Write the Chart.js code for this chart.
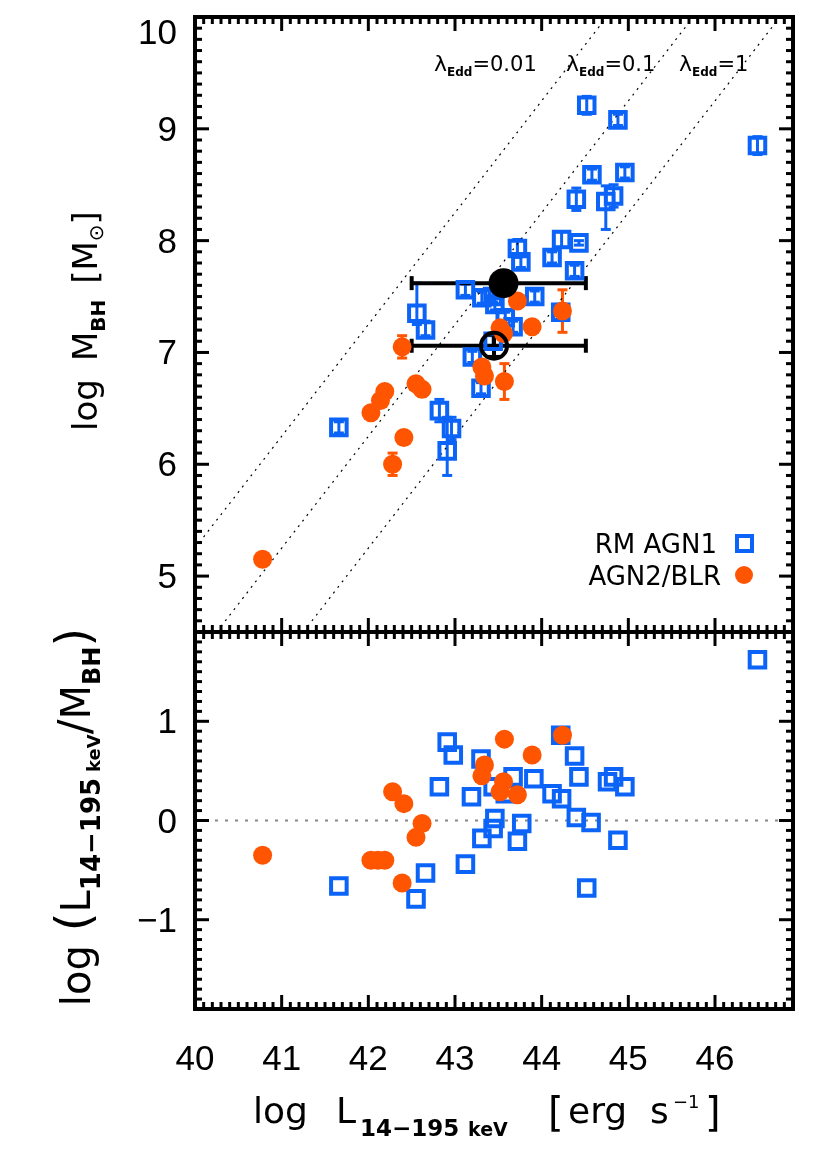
<!DOCTYPE html>
<html>
<head>
<meta charset="utf-8">
<script src="https://cdn.jsdelivr.net/npm/chart.js@4.4.1/dist/chart.umd.min.js"></script>
<style>
  body { margin: 0; background: #fff; }
  #wrap { position: relative; width: 830px; height: 1173px; }
  canvas { position: absolute; left: 0; top: 0; }
</style>
</head>
<body>
<div id="wrap">
  <canvas id="topChart" width="830" height="1173"></canvas>
  <canvas id="botChart" width="830" height="1173"></canvas>
</div>
<script>
// ----------------- Data -----------------
// RM AGN1 (blue squares): log L, log M_BH, lower / upper error
const rmL     = [46.49, 44.52, 44.88, 44.58, 44.96, 44.40, 44.74, 44.83, 43.72, 43.76, 44.23, 44.43, 44.12, 44.38, 42.56, 43.12,
                 43.31, 43.92, 42.66, 43.44, 43.46, 43.67, 44.22, 43.20, 43.30, 42.82, 42.96, 42.91, 41.66, 43.44, 43.58];
const rmM     = [8.85, 9.21, 9.08, 8.59, 8.61, 8.37, 8.35, 8.40, 7.93, 7.81, 8.01, 7.98, 7.85, 7.73, 7.35, 7.56,
                 7.49, 7.50, 7.20, 7.50, 7.43, 7.23, 7.36, 6.96, 6.68, 6.48, 6.32, 6.12, 6.33, 7.10, 7.31];
const rmErrLo = [0.08, 0.08, 0.05, 0.05, 0.05, 0.10, 0.25, 0.10, 0.08, 0.05, 0.07, 0.02, 0.05, 0.05, 0.10, 0.05,
                 0.05, 0.05, 0.05, 0.05, 0.05, 0.05, 0.07, 0.05, 0.05, 0.10, 0.10, 0.22, 0.05, 0.05, 0.05];
const rmErrHi = [0.08, 0.08, 0.05, 0.05, 0.05, 0.10, 0.14, 0.10, 0.08, 0.05, 0.07, 0.02, 0.05, 0.05, 0.27, 0.05,
                 0.05, 0.05, 0.08, 0.05, 0.05, 0.05, 0.07, 0.05, 0.05, 0.10, 0.10, 0.30, 0.05, 0.05, 0.05];
// RM AGN1 lower panel: log L, log(L/M_BH)
const rmRatioL = [46.49, 44.52, 44.88, 44.57, 44.96, 44.40, 44.76, 44.83, 43.72, 43.77, 44.23, 44.43, 44.12, 44.38, 42.55, 43.12,
                  43.31, 43.91, 42.66, 43.44, 43.46, 43.67, 44.22, 43.19, 43.30, 42.82, 42.98, 42.91, 41.66, 43.44, 43.58];
const rmRatio  = [1.62, -0.68, -0.20, -0.02, 0.34, 0.03, 0.39, 0.44, -0.21, -0.03, 0.22, 0.44, 0.27, 0.65, -0.79, -0.44,
                  -0.18, 0.42, -0.53, -0.08, 0.02, 0.44, 0.86, 0.24, 0.62, 0.34, 0.66, 0.79, -0.66, 0.34, 0.27];

// AGN2/BLR (orange circles)
const blrL   = [40.78, 42.03, 42.14, 42.19, 42.28, 42.41, 42.39, 42.55, 42.62, 43.31, 43.34, 43.52, 43.56, 43.57, 43.72, 43.89, 44.24];
const blrM   = [5.15, 6.46, 6.57, 6.65, 6.00, 6.24, 7.05, 6.72, 6.67, 6.87, 6.79, 7.22, 7.17, 6.74, 7.46, 7.23, 7.37];
const blrErr = [0.05, 0.05, 0.05, 0.05, 0.10, 0.05, 0.10, 0.05, 0.06, 0.05, 0.05, 0.05, 0.05, 0.16, 0.05, 0.05, 0.19];
const blrRatioL = [40.78, 42.03, 42.11, 42.19, 42.28, 42.41, 42.39, 42.55, 42.62, 43.31, 43.34, 43.52, 43.56, 43.57, 43.72, 43.89, 44.24];
const blrRatio  = [-0.35, -0.40, -0.40, -0.40, 0.29, 0.17, -0.63, -0.17, -0.03, 0.45, 0.56, 0.29, 0.39, 0.82, 0.26, 0.66, 0.86];

// stacked averages (black): filled, open
const avgL    = [43.56, 43.45];
const avgM    = [7.62, 7.06];
const avgLlo  = [42.50, 42.50];
const avgLhi  = [44.51, 44.51];
const avgMerr = [0.0, 0.10];

// Eddington ratio lines (end points)
const eddNames = ['0.01', '0.1', '1'];
const eddX = [[40.00, 44.75], [40.25, 45.75], [41.25, 46.75]];
const eddY = [[5.25, 10.0], [4.5, 10.0], [4.5, 10.0]];

// axes
const xRange = [40, 46.9];
const yTopRange = [4.5, 10];
const yBotRange = [-1.9, 1.9];
const xTicks = [40, 41, 42, 43, 44, 45, 46];
const yTopTicks = [5, 6, 7, 8, 9, 10];
const yBotTicks = [-1, 0, 1];

const BLUE = '#0b64f7';
const ORANGE = '#ff5500';
const FAM = '"DejaVu Sans", sans-serif';
const TICKFAM = '"Liberation Sans", Arial, sans-serif';

// ----------------- helpers -----------------
function font(size, bold) { return (bold ? 'bold ' : '') + size + 'px ' + FAM; }

// parts: [text, size, bold, dy, gapAfter]
function richText(ctx, parts, x, y, rot) {
  ctx.save();
  ctx.translate(x, y);
  ctx.rotate(rot || 0);
  ctx.fillStyle = '#000';
  ctx.textAlign = 'left';
  ctx.textBaseline = 'alphabetic';
  let w = 0;
  const ws = parts.map(p => { ctx.font = font(p[1], p[2]); const m = ctx.measureText(p[0]).width; w += m + (p[4] || 0); return m; });
  let cx = -w / 2;
  parts.forEach((p, i) => { ctx.font = font(p[1], p[2]); ctx.fillText(p[0], cx, p[3] || 0); cx += ws[i] + (p[4] || 0); });
  ctx.restore();
}

function seg(ctx, x1, y1, x2, y2) { ctx.beginPath(); ctx.moveTo(x1, y1); ctx.lineTo(x2, y2); ctx.stroke(); }

// ----------------- plugins -----------------
const errorBars = {
  id: 'errorBars',
  beforeDatasetsDraw(chart) {
    const { ctx, scales: { x, y } } = chart;
    ctx.save();
    chart.data.datasets.forEach(ds => {
      if (!ds.err) return;
      ctx.strokeStyle = ds.err.color;
      ctx.lineWidth = ds.err.width;
      ds.data.forEach(p => {
        const px = x.getPixelForValue(p.x), py = y.getPixelForValue(p.y);
        if (p.yLo !== undefined && p.yHi > p.yLo) {
          const a = y.getPixelForValue(p.yLo), b = y.getPixelForValue(p.yHi);
          seg(ctx, px, a, px, b);
          seg(ctx, px - ds.err.cap, a, px + ds.err.cap, a);
          seg(ctx, px - ds.err.cap, b, px + ds.err.cap, b);
        }
        if (p.xLo !== undefined) {
          const a = x.getPixelForValue(p.xLo), b = x.getPixelForValue(p.xHi);
          seg(ctx, a, py, b, py);
          seg(ctx, a, py - ds.err.cap, a, py + ds.err.cap);
          seg(ctx, b, py - ds.err.cap, b, py + ds.err.cap);
        }
      });
    });
    ctx.restore();
  }
};

function framePlugin(yTicks, drawExtra) {
  return {
    id: 'frame',
    afterDraw(chart) {
      const { ctx, chartArea: a, scales: { x, y } } = chart;
      ctx.save();
      ctx.strokeStyle = '#000';
      ctx.lineWidth = 3;
      for (let i = Math.ceil(x.min * 10); i <= Math.floor(x.max * 10 + 1e-6); i++) {
        const px = x.getPixelForValue(i / 10), len = i % 10 === 0 ? 14 : 7;
        seg(ctx, px, a.bottom, px, a.bottom - len);
        seg(ctx, px, a.top, px, a.top + len);
      }
      for (let i = Math.ceil(y.min * 10 - 1e-6); i <= Math.floor(y.max * 10 + 1e-6); i++) {
        const py = y.getPixelForValue(i / 10), len = i % 10 === 0 ? 14 : 7;
        seg(ctx, a.left, py, a.left + len, py);
        seg(ctx, a.right, py, a.right - len, py);
      }
      ctx.lineWidth = 4;
      ctx.strokeRect(a.left, a.top, a.right - a.left, a.bottom - a.top);
      // y tick labels
      ctx.fillStyle = '#000';
      ctx.font = '35px ' + TICKFAM;
      ctx.textAlign = 'right';
      ctx.textBaseline = 'alphabetic';
      yTicks.forEach(v => {
        const py = y.getPixelForValue(v);
        const base = Math.max(py + 12, a.top + 27);
        ctx.fillText(v < 0 ? '\u2212' + Math.abs(v) : String(v), 177, base);
      });
      ctx.restore();
      drawExtra(chart);
    }
  };
}

function baseOptions(yRange, padding) {
  return {
    responsive: false,
    animation: false,
    layout: { padding },
    plugins: { legend: { display: false }, tooltip: { enabled: false } },
    scales: {
      x: { type: 'linear', min: xRange[0], max: xRange[1], display: false },
      y: { type: 'linear', min: yRange[0], max: yRange[1], display: false }
    }
  };
}

// ----------------- top panel -----------------
const eddSets = eddNames.map((n, i) => ({
  label: 'lambda ' + n,
  data: [{ x: eddX[i][0], y: eddY[i][0] }, { x: eddX[i][1], y: eddY[i][1] }],
  showLine: true, pointRadius: 0, borderColor: '#000', borderWidth: 1.2, borderDash: [2, 5], order: 9
}));

new Chart(document.getElementById('topChart'), {
  type: 'scatter',
  data: {
    datasets: [
      ...eddSets,
      {
        label: 'RM AGN1',
        data: rmL.map((v, i) => ({ x: v, y: rmM[i], yLo: rmM[i] - rmErrLo[i], yHi: rmM[i] + rmErrHi[i] })),
        pointStyle: 'rect', pointRadius: 11, borderWidth: 4, borderColor: BLUE, backgroundColor: 'rgba(0,0,0,0)',
        err: { color: BLUE, width: 3, cap: 5 }, order: 3
      },
      {
        label: 'AGN2/BLR',
        data: blrL.map((v, i) => ({ x: v, y: blrM[i], yLo: blrM[i] - blrErr[i], yHi: blrM[i] + blrErr[i] })),
        pointStyle: 'circle', pointRadius: 9.5, borderWidth: 0, backgroundColor: ORANGE,
        err: { color: ORANGE, width: 3, cap: 5 }, order: 2
      },
      {
        label: 'stack filled',
        data: [{ x: avgL[0], y: avgM[0], xLo: avgLlo[0], xHi: avgLhi[0] }],
        pointStyle: 'circle', pointRadius: 15, borderWidth: 0, backgroundColor: '#000',
        err: { color: '#000', width: 4, cap: 7 }, order: 1
      },
      {
        label: 'stack open',
        data: [{ x: avgL[1], y: avgM[1], xLo: avgLlo[1], xHi: avgLhi[1], yLo: avgM[1] - avgMerr[1], yHi: avgM[1] + avgMerr[1] }],
        pointStyle: 'circle', pointRadius: 13, borderWidth: 4, borderColor: '#000', backgroundColor: 'rgba(0,0,0,0)',
        err: { color: '#000', width: 4, cap: 7 }, order: 1
      }
    ]
  },
  options: baseOptions(yTopRange, { left: 195, right: 37, top: 7, bottom: 541 }),
  plugins: [errorBars, framePlugin(yTopTicks, chart => {
    const ctx = chart.ctx;
    // Eddington labels
    const lx = [434, 566, 679];
    eddNames.forEach((n, i) => {
      ctx.save();
      ctx.fillStyle = '#000';
      ctx.textBaseline = 'alphabetic';
      let x = lx[i];
      ctx.font = font(22); ctx.fillText('\u03bb', x, 71); x += ctx.measureText('\u03bb').width;
      ctx.font = font(12, true); ctx.fillText('Edd', x, 76); x += ctx.measureText('Edd').width;
      ctx.font = font(21); ctx.fillText('=' + n, x, 71);
      ctx.restore();
    });
    // legend
    ctx.save();
    ctx.fillStyle = '#000';
    ctx.font = font(26);
    ctx.textAlign = 'right';
    ctx.textBaseline = 'alphabetic';
    ctx.fillText('RM AGN1', 717, 553);
    ctx.fillText('AGN2/BLR', 721, 585);
    ctx.strokeStyle = BLUE; ctx.lineWidth = 4;
    ctx.strokeRect(737, 536, 15, 15);
    ctx.fillStyle = ORANGE;
    ctx.beginPath(); ctx.arc(744, 575, 9, 0, Math.PI * 2); ctx.fill();
    ctx.restore();
    // y title
    richText(ctx, [['log', 34, false, 0, 18], ['M', 34], ['BH', 20, true, 8, 16], ['[', 34], ['M', 34], ['\u2299', 20, false, 6], [']', 34]],
      97, 321, -Math.PI / 2);
  })]
});

// ----------------- bottom panel -----------------
new Chart(document.getElementById('botChart'), {
  type: 'scatter',
  data: {
    datasets: [
      {
        label: 'zero',
        data: [{ x: xRange[0], y: 0 }, { x: xRange[1], y: 0 }],
        showLine: true, pointRadius: 0, borderColor: '#888', borderWidth: 2, borderDash: [3, 7], order: 9
      },
      {
        label: 'RM AGN1',
        data: rmRatioL.map((v, i) => ({ x: v, y: rmRatio[i] })),
        pointStyle: 'rect', pointRadius: 11, borderWidth: 4, borderColor: BLUE, backgroundColor: 'rgba(0,0,0,0)', order: 3
      },
      {
        label: 'AGN2/BLR',
        data: blrRatioL.map((v, i) => ({ x: v, y: blrRatio[i] })),
        pointStyle: 'circle', pointRadius: 9.5, borderWidth: 0, backgroundColor: ORANGE, order: 2
      }
    ]
  },
  options: baseOptions(yBotRange, { left: 195, right: 37, top: 632, bottom: 164 }),
  plugins: [framePlugin(yBotTicks, chart => {
    const { ctx, scales: { x } } = chart;
    ctx.save();
    ctx.fillStyle = '#000';
    ctx.font = '35px ' + TICKFAM;
    ctx.textAlign = 'center';
    ctx.textBaseline = 'alphabetic';
    xTicks.forEach(v => ctx.fillText(String(v), x.getPixelForValue(v), 1070));
    // x title, pieces placed left to right
    ctx.textAlign = 'left';
    const put = (t, px, py, size, bold) => { ctx.font = font(size, bold); ctx.fillText(t, px, py); };
    put('log', 253, 1123, 36);
    put('L', 336, 1123, 36);
    put('14\u2212195', 360, 1136, 23, true);
    put('keV', 468, 1136, 19, true);
    put('[', 548, 1126, 40);
    put('erg', 568, 1123, 36);
    put('s', 650, 1123, 36);
    put('\u22121', 673, 1108, 18);
    put(']', 705, 1126, 40);
    ctx.restore();
    // y title
    richText(ctx, [['log', 40, false, 0, 14], ['(', 48], ['L', 40], ['14\u2212195', 26, true, 10, 6], ['keV', 18, true, 10],
      ['/', 44], ['M', 40], ['BH', 24, true, 10], [')', 48]], 90, 817, -Math.PI / 2);
  })]
});
</script>
</body>
</html>
